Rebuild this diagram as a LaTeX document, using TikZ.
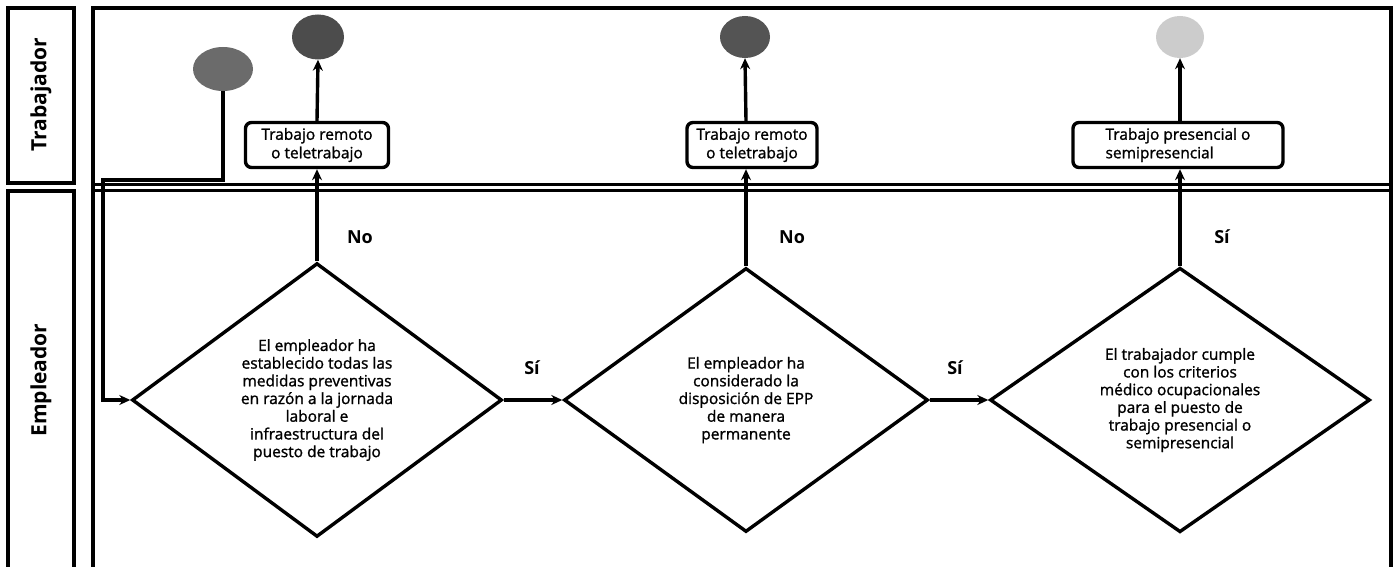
\documentclass[tikz,border=0pt]{standalone}
\usepackage{fontspec}
\setmainfont{Open Sans}
\newfontfamily\semib{Open Sans}[FakeBold=1.3]
\usetikzlibrary{shapes.geometric,arrows.meta}
\begin{document}
\begin{tikzpicture}[x=1pt,y=-1pt,
  lanebox/.style={draw,line width=3.2pt},
  dec/.style={draw,shape=diamond,line width=3.4pt,inner sep=0pt,align=center,font=\semib\fontsize{15.5}{17.7}\selectfont},
  act/.style={draw,rounded corners=6pt,line width=3.4pt,inner xsep=8pt,inner ysep=3pt,font=\semib\fontsize{15.5}{18.5}\selectfont},
  term/.style={ellipse,inner sep=0pt},
  flow/.style={line width=3.4pt,-{Stealth[length=11pt,width=10pt]}},
  plain/.style={line width=3.2pt},
  lbl/.style={font=\fontsize{18}{20}\selectfont\bfseries},
  lanelbl/.style={font=\fontsize{21}{24}\selectfont\bfseries,rotate=90}]
\useasboundingbox (0,0) rectangle (1398,567);
\clip (0,0) rectangle (1398,567);
% lane label boxes
\draw[lanebox] (8,8) rectangle (74,183);
\node[lanelbl] (ltrab) at (41,95) {Trabajador};
\draw[lanebox] (8,191) rectangle (74,580);
\node[lanelbl] (lemp) at (41,380) {Empleador};
% main frame
\draw[plain] (93,580) -- (93,8) -- (1391,8) -- (1391,580);
\draw[line width=3pt] (93,184.5) -- (1391,184.5);
\draw[line width=3pt] (93,190.5) -- (1391,190.5);
% terminals
\node[term,fill=black!58,minimum width=60pt,minimum height=44pt] (c0) at (223,69) {};
\node[term,fill=black!70,minimum width=52pt,minimum height=45pt] (c1) at (318,37) {};
\node[term,fill=black!67,minimum width=50pt,minimum height=42pt] (c2) at (745,37) {};
\node[term,fill=black!20,minimum width=48pt,minimum height=42pt] (c3) at (1180,37) {};
% decisions
\node[dec,minimum width=370pt,minimum height=264pt] (d1) at (317,400) {El empleador ha\\establecido todas las\\medidas preventivas\\en razón a la jornada\\laboral e\\infraestructura del\\puesto de trabajo};
\node[dec,minimum width=364pt,minimum height=264pt] (d2) at (746,400) {El empleador ha\\considerado la\\disposición de EPP\\de manera\\permanente};
\node[dec,minimum width=380pt,minimum height=264pt] (d3) at (1180,400) {El trabajador cumple\\con los criterios\\médico ocupacionales\\para el puesto de\\trabajo presencial o\\semipresencial};
% actions
\node[act,align=center,minimum width=143pt,minimum height=45pt] (b1) at (317,145) {Trabajo remoto\\o teletrabajo};
\node[act,align=center,minimum width=130pt,minimum height=45pt] (b2) at (752,145) {Trabajo remoto\\o teletrabajo};
\node[act,align=left,minimum width=210pt,minimum height=45pt] (b3) at (1178,145) {Trabajo presencial o\\semipresencial};
% start connector
\coordinate (k1) at (103,180);
\draw[flow] (c0.south) |- (k1) |- (d1.west);
% flows
\draw[flow] (d1.east) -- (d2.west);
\draw[flow] (d2.east) -- (d3.west);
\draw[flow] (d1.north) -- (d1.north |- b1.south);
\draw[flow] (d2.north) -- (d2.north |- b2.south);
\draw[flow] (d3.north) -- (d3.north |- b3.south);
\draw[flow] (d1.north |- b1.north) -- (c1.south);
\draw[flow] (d2.north |- b2.north) -- (c2.south);
\draw[flow] (d3.north |- b3.north) -- (c3.south);
% labels
\node[lbl] (n1) at (360,237) {No};
\node[lbl] (n2) at (792,237) {No};
\node[lbl] (s3) at (1222,237) {Sí};
\node[lbl] (s1) at (532,368) {Sí};
\node[lbl] (s2) at (955,368) {Sí};
\end{tikzpicture}
\end{document}
